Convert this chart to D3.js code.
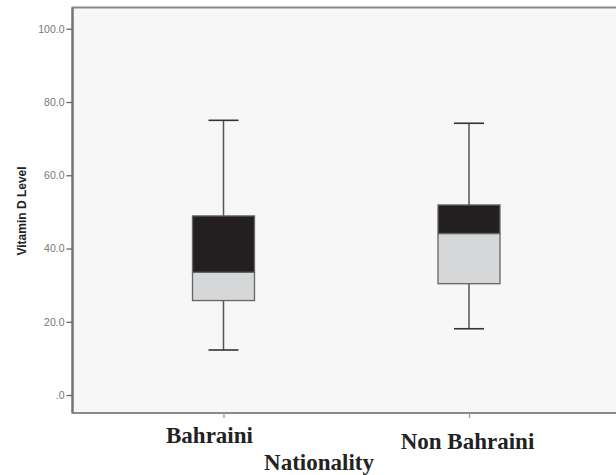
<!DOCTYPE html>
<html><head><meta charset="utf-8">
<script src="https://cdn.jsdelivr.net/npm/d3@7"></script>
<style>body{margin:0;background:#fff}svg{display:block}</style>
</head><body><svg id="c" width="616" height="475"></svg>
<script>
const categories = ["Bahraini", "Non Bahraini"];
const minVals    = [12.3, 18.1];
const q1Vals     = [25.8, 30.4];
const medianVals = [33.5, 44.1];
const q3Vals     = [48.9, 51.9];
const maxVals    = [75.0, 74.2];
const yTicks     = [0, 20, 40, 60, 80, 100];
const yTickLabels = [".0", "20.0", "40.0", "60.0", "80.0", "100.0"];
const xTitle = "Nationality";
const yTitle = "Vitamin D Level";

const svg = d3.select("#c");
const plot = {left: 72.5, top: 7.5, right: 630, bottom: 413};
const y = d3.scaleLinear().domain([-4.9, 105.8]).range([plot.bottom, plot.top]);
const x = d3.scalePoint().domain(categories).range([223.5, 469]);

svg.append("rect").attr("x", plot.left).attr("y", plot.top)
  .attr("width", plot.right - plot.left).attr("height", plot.bottom - plot.top)
  .attr("fill", "#f7f7f7").attr("stroke", "#8a8a8a").attr("stroke-width", 2);
svg.append("line").attr("x1", plot.left).attr("x2", plot.left).attr("y1", plot.top).attr("y2", plot.bottom)
  .attr("stroke", "#777").attr("stroke-width", 2.2);

// y axis
const yAxis = d3.axisLeft(y).tickValues(yTicks).tickSize(6).tickPadding(2)
  .tickFormat((d, i) => yTickLabels[i]);
const gy = svg.append("g").attr("transform", `translate(${plot.left},0)`).call(yAxis);
gy.select(".domain").remove();
gy.selectAll(".tick line").attr("stroke", "#666").attr("stroke-width", 1.3);
gy.selectAll(".tick text").attr("fill", "#777").style("font", "10.5px 'Liberation Sans', Arial, sans-serif");

// x axis ticks
const xAxis = d3.axisBottom(x).tickSize(5).tickFormat("");
const gx = svg.append("g").attr("transform", `translate(0,${plot.bottom})`).call(xAxis);
gx.select(".domain").remove();
gx.selectAll(".tick line").attr("stroke", "#999").attr("stroke-width", 1.3);

// boxes
const data = categories.map((c, i) => ({c, min: minVals[i], q1: q1Vals[i], med: medianVals[i], q3: q3Vals[i], max: maxVals[i]}));
const boxW = 62, capW = 30;
const g = svg.append("g");
data.forEach(d => {
  const cx = x(d.c);
  g.append("line").attr("x1", cx).attr("x2", cx).attr("y1", y(d.max)).attr("y2", y(d.min))
    .attr("stroke", "#555").attr("stroke-width", 1.5);
  [d.max, d.min].forEach(v => g.append("line").attr("x1", cx - capW/2).attr("x2", cx + capW/2)
    .attr("y1", y(v)).attr("y2", y(v)).attr("stroke", "#333").attr("stroke-width", 1.6));
  g.append("rect").attr("x", cx - boxW/2).attr("width", boxW)
    .attr("y", y(d.med)).attr("height", y(d.q1) - y(d.med))
    .attr("fill", "#d6d7d8").attr("stroke", "#666").attr("stroke-width", 1.3);
  g.append("rect").attr("x", cx - boxW/2).attr("width", boxW)
    .attr("y", y(d.q3)).attr("height", y(d.med) - y(d.q3))
    .attr("fill", "#231f20").attr("stroke", "#666").attr("stroke-width", 1.3);
});

// category labels
const labOff = {"Bahraini": [-14, 443], "Non Bahraini": [-1.5, 448.5]};
svg.selectAll("text.cat").data(categories).join("text").attr("class", "cat")
  .attr("x", d => x(d) + labOff[d][0]).attr("y", d => labOff[d][1])
  .attr("text-anchor", "middle").attr("fill", "#222")
  .style("font", "bold 23px 'Liberation Serif', 'Times New Roman', serif")
  .text(d => d);

svg.append("text").attr("x", 319).attr("y", 470).attr("text-anchor", "middle").attr("fill", "#222")
  .style("font", "bold 23px 'Liberation Serif', 'Times New Roman', serif").text(xTitle);

svg.append("text").attr("transform", "translate(25.5,211) rotate(-90)").attr("text-anchor", "middle")
  .attr("fill", "#222").style("font", "bold 12px 'Liberation Sans', Arial, sans-serif").text(yTitle);
</script></body></html>
